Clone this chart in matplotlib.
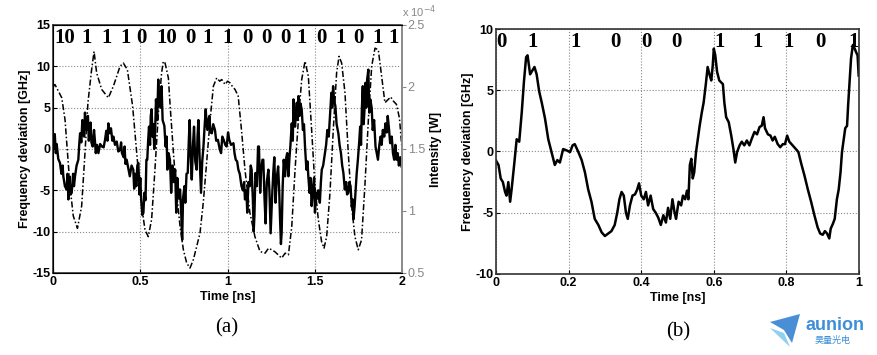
import numpy as np
import matplotlib
matplotlib.use("Agg")
import matplotlib.pyplot as plt
from matplotlib.ticker import FuncFormatter
from matplotlib.patches import Polygon

plt.rcParams['font.family'] = ['Liberation Sans', 'DejaVu Sans']
plt.rcParams['axes.unicode_minus'] = False

# --- (a) frequency deviation [GHz], solid line ---
t_freq_a = [0.0, 0.005, 0.01, 0.016, 0.021, 0.03, 0.04, 0.048, 0.055, 0.059, 0.068, 0.078, 0.083, 0.088,
            0.094, 0.1, 0.107, 0.115, 0.12, 0.126, 0.135, 0.145, 0.15, 0.155, 0.162, 0.168, 0.174, 0.178,
            0.183, 0.19, 0.195, 0.2, 0.205, 0.21, 0.215, 0.22, 0.227, 0.235, 0.24, 0.245, 0.252, 0.26,
            0.27, 0.28, 0.29, 0.298, 0.305, 0.312, 0.317, 0.325, 0.332, 0.34, 0.346, 0.355, 0.365, 0.374,
            0.384, 0.39, 0.395, 0.405, 0.41, 0.415, 0.422, 0.43, 0.44, 0.45, 0.46, 0.465, 0.47, 0.477,
            0.483, 0.489, 0.495, 0.5, 0.505, 0.512, 0.518, 0.523, 0.53, 0.535, 0.54, 0.545, 0.55, 0.556,
            0.56, 0.565, 0.57, 0.575, 0.58, 0.585, 0.59, 0.597, 0.603, 0.608, 0.614, 0.618, 0.622, 0.628,
            0.638, 0.645, 0.651, 0.655, 0.662, 0.67, 0.677, 0.684, 0.692, 0.7, 0.706, 0.712, 0.72, 0.728,
            0.735, 0.74, 0.745, 0.753, 0.758, 0.765, 0.772, 0.778, 0.783, 0.789, 0.795, 0.802, 0.808,
            0.815, 0.823, 0.828, 0.833, 0.84, 0.848, 0.855, 0.862, 0.868, 0.875, 0.88, 0.885, 0.89, 0.896,
            0.902, 0.91, 0.918, 0.928, 0.935, 0.945, 0.955, 0.963, 0.97, 0.978, 0.987, 0.995, 1.003, 1.01,
            1.02, 1.034, 1.04, 1.047, 1.055, 1.062, 1.07, 1.08, 1.088, 1.095, 1.1, 1.108, 1.113, 1.12,
            1.128, 1.133, 1.138, 1.145, 1.15, 1.154, 1.16, 1.168, 1.175, 1.18, 1.187, 1.193, 1.2, 1.205,
            1.212, 1.218, 1.225, 1.234, 1.24, 1.247, 1.255, 1.262, 1.268, 1.275, 1.282, 1.29, 1.296, 1.301,
            1.306, 1.31, 1.316, 1.322, 1.33, 1.337, 1.342, 1.349, 1.355, 1.36, 1.368, 1.374, 1.378, 1.383,
            1.387, 1.392, 1.397, 1.402, 1.406, 1.413, 1.418, 1.425, 1.432, 1.438, 1.444, 1.452, 1.458,
            1.463, 1.47, 1.476, 1.482, 1.49, 1.496, 1.501, 1.508, 1.515, 1.52, 1.529, 1.535, 1.54, 1.548,
            1.558, 1.565, 1.572, 1.58, 1.587, 1.595, 1.6, 1.605, 1.61, 1.618, 1.625, 1.635, 1.642, 1.65,
            1.657, 1.664, 1.672, 1.68, 1.685, 1.692, 1.698, 1.705, 1.712, 1.717, 1.722, 1.728, 1.733, 1.74,
            1.747, 1.755, 1.76, 1.765, 1.77, 1.775, 1.78, 1.785, 1.79, 1.795, 1.8, 1.807, 1.812, 1.818,
            1.826, 1.832, 1.84, 1.848, 1.855, 1.862, 1.87, 1.877, 1.883, 1.89, 1.898, 1.905, 1.912, 1.918,
            1.925, 1.932, 1.941, 1.948, 1.955, 1.962, 1.968, 1.975, 1.982, 1.99, 1.997]
freq_a = [1.5, 0.0, 1.8, -0.5, 0.6, -1.2, -1.7, -3.0, -2.0, -3.3, -4.5, -4.9, -3.0, -6.1,
          -3.3, -5.5, -5.3, -3.0, -4.5, -3.3, -2.0, -1.3, 0.5, 1.9, 0.8, 3.5, 3.1, 1.5,
          4.4, 2.3, 3.0, 4.0, 1.0, 1.9, 3.2, 0.8, 0.3, 2.3, 1.0, -0.5, 0.5, -0.5,
          0.6, 0.3, 0.2, 1.1, 2.2, 1.0, 3.1, 1.9, 2.5, 1.0, 1.5, 0.5, 0.9, -0.3,
          -0.1, 0.8, -0.5, -1.0, 0.3, -1.8, -1.3, -2.2, -3.3, -2.0, -2.5, -4.8, -3.0, -4.5,
          -2.0, -1.7, -5.5, -3.5, -6.1, -8.0, -7.7, -5.3, -6.2, -1.3, -1.3, 1.0, 2.7, 0.5,
          4.0, 4.8, 1.5, 3.0, 0.0, 2.0, 6.0, 3.5, 8.4, 5.2, 7.0, 5.0, 7.6, 3.5,
          2.8, 0.3, 1.5, -2.5, -0.5, -1.3, -5.3, -2.0, -4.0, -2.5, -7.7, -3.5, -6.0, -4.9,
          -8.0, -11.0, -6.0, -4.5, -6.5, -3.0, -2.9, 1.0, 3.5, -1.0, -3.7, 0.5, 2.7,
          -1.5, -2.5, 1.5, 3.5, -1.0, -5.3, -1.5, 0.3, 2.5, 4.8, 3.0, 2.3, 3.5, 4.0,
          2.0, 1.9, 3.0, 2.3, 1.0, 1.1, 0.0, -0.5, 1.5, 1.1, 0.5, 0.3, 2.0, 1.1,
          0.5, 0.7, -0.5, -1.3, -1.5, -2.5, -3.0, -4.5, -5.0, -4.0, -6.1, -5.0, -7.7, -4.0,
          -4.5, -2.0, -2.5, -6.0, -10.0, -8.1, -2.9, -4.5, 0.3, 0.3, -5.3, -2.5, -1.3, -1.3,
          -6.0, -9.0, -4.0, -2.5, -5.0, -10.2, -6.0, -2.9, -1.0, -6.5, -3.5, -2.1, -5.0, -8.5,
          -11.5, -10.2, -4.5, -1.3, -3.3, -1.0, -0.5, -3.3, -1.0, 0.3, 3.1, 1.0, 6.0, 3.5,
          2.7, 4.5, 5.6, 3.5, 6.4, 4.0, 5.5, 4.8, 2.3, 3.0, 0.3, -2.5, -1.5,
          -3.3, -5.3, -3.5, -6.9, -4.5, -3.5, -7.7, -5.3, -6.0, -5.0, -6.5, -4.0, -2.5, -2.0,
          -0.5, 0.5, 2.3, 1.5, 4.0, 6.8, 5.0, 7.6, 6.0, 5.2, 3.0, 1.9, 0.5, -0.5,
          -2.0, -2.9, -4.9, -4.0, -5.5, -5.3, -4.0, -4.5, -7.0, -6.1, -8.5, -7.0, -5.3, -3.0,
          -1.3, 1.0, 2.7, 0.5, 5.0, 7.6, 3.0, 4.8, 8.0, 5.0, 8.4, 9.6, 4.4, 6.0,
          5.0, 2.3, 3.5, 0.3, -0.5, -1.3, 0.5, 1.5, 0.5, 2.3, 1.5, 3.1, 2.0, 4.0,
          2.5, 0.7, 1.5, -0.5, -1.3, 0.5, -1.3, -0.5, -2.0, -1.0, -2.1]

# --- (a) intensity [x1e-4 W], dash-dot line ---
t_int_a = [0.0, 0.011, 0.05, 0.069, 0.097, 0.116, 0.14, 0.164, 0.183, 0.2, 0.22, 0.235, 0.25, 0.279,
           0.317, 0.346, 0.384, 0.403, 0.426, 0.456, 0.483, 0.508, 0.527, 0.546, 0.565, 0.584, 0.604,
           0.622, 0.632, 0.642, 0.661, 0.67, 0.69, 0.708, 0.728, 0.747, 0.766, 0.785, 0.804, 0.823,
           0.842, 0.861, 0.88, 0.9, 0.919, 0.938, 0.955, 0.967, 0.986, 1.0, 1.014, 1.03, 1.043, 1.061,
           1.08, 1.1, 1.128, 1.157, 1.186, 1.215, 1.235, 1.253, 1.27, 1.29, 1.31, 1.33, 1.349, 1.368,
           1.387, 1.406, 1.425, 1.444, 1.463, 1.482, 1.501, 1.52, 1.539, 1.553, 1.568, 1.587, 1.606,
           1.625, 1.639, 1.654, 1.673, 1.692, 1.711, 1.73, 1.749, 1.768, 1.787, 1.807, 1.826, 1.845,
           1.864, 1.883, 1.902, 1.921, 1.935, 1.95, 1.968, 1.985, 2.0]
int_a = [2.00, 2.02, 1.913, 1.733, 1.20, 0.96, 0.86, 1.04, 1.467, 1.873, 2.127, 2.287, 2.113, 1.98,
         1.913, 2.007, 2.167, 2.193, 2.14, 1.847, 1.413, 1.04, 0.847, 0.793, 0.933, 1.333, 1.793,
         2.113, 2.207, 2.193, 2.073, 1.873, 1.467, 1.147, 0.873, 0.687, 0.58, 0.54, 0.607, 0.713,
         0.82, 1.067, 1.387, 1.733, 2.007, 2.073, 2.047, 2.06, 2.02, 2.047, 2.033, 2.0, 1.98, 1.927,
         1.653, 1.333, 0.987, 0.793, 0.673, 0.66, 0.70, 0.687, 0.673, 0.647, 0.62, 0.66, 0.647, 0.873,
         1.333, 1.733, 2.06, 2.207, 2.087, 1.653, 1.2, 0.933, 0.753, 0.70, 0.793, 1.147, 1.653,
         2.113, 2.247, 2.193, 1.953, 1.467, 1.04, 0.793, 0.687, 0.767, 1.2, 1.733, 2.167, 2.313,
         2.3, 2.087, 1.873, 1.9, 1.92, 1.887, 1.86, 1.75, 1.5]

# --- (b) frequency deviation [GHz] ---
t_freq_b = [0.0, 0.007, 0.013, 0.019, 0.025, 0.029, 0.034, 0.039, 0.043, 0.05, 0.057, 0.064, 0.071,
            0.077, 0.083, 0.087, 0.094, 0.1, 0.106, 0.112, 0.119, 0.126, 0.135, 0.144, 0.153, 0.162,
            0.169, 0.176, 0.185, 0.194, 0.204, 0.211, 0.217, 0.227, 0.236, 0.245, 0.254, 0.263, 0.272,
            0.282, 0.291, 0.3, 0.309, 0.318, 0.327, 0.334, 0.34, 0.346, 0.352, 0.358, 0.363, 0.369,
            0.376, 0.383, 0.389, 0.394, 0.4, 0.407, 0.413, 0.419, 0.426, 0.433, 0.44, 0.447, 0.454,
            0.461, 0.468, 0.474, 0.48, 0.486, 0.492, 0.496, 0.503, 0.51, 0.515, 0.521, 0.526, 0.53,
            0.534, 0.538, 0.542, 0.546, 0.551, 0.556, 0.561, 0.567, 0.572, 0.578, 0.583, 0.588, 0.593,
            0.597, 0.6, 0.604, 0.609, 0.615, 0.625, 0.629, 0.634, 0.641, 0.648, 0.654, 0.659, 0.664,
            0.671, 0.677, 0.684, 0.691, 0.698, 0.704, 0.712, 0.719, 0.726, 0.732, 0.737, 0.741, 0.749,
            0.756, 0.762, 0.768, 0.776, 0.783, 0.79, 0.796, 0.802, 0.808, 0.817, 0.826, 0.833, 0.84,
            0.85, 0.859, 0.868, 0.877, 0.886, 0.893, 0.9, 0.906, 0.912, 0.918, 0.922, 0.928, 0.933,
            0.939, 0.944, 0.949, 0.953, 0.958, 0.962, 0.967, 0.97, 0.974, 0.978, 0.983, 0.988, 0.992,
            0.996, 0.999]
freq_b = [-0.74, -1.1, -2.2, -2.5, -3.3, -3.6, -2.5, -4.1, -3.1, -1.1, 1.0, 0.8, 3.2,
          5.7, 7.7, 7.85, 6.3, 6.6, 6.9, 6.3, 4.9, 4.0, 2.7, 1.0, -0.05, -1.1,
          -0.7, -0.9, 0.2, 0.1, -0.05, 0.5, 0.6, -0.05, -0.7, -1.7, -3.1, -4.1, -5.5,
          -6.0, -6.6, -6.9, -6.7, -6.5, -6.0, -5.0, -3.9, -3.3, -3.6, -5.0, -5.5, -4.4,
          -3.6, -3.5, -3.1, -2.6, -3.6, -3.9, -3.3, -4.4, -3.6, -4.7, -5.0, -5.4, -6.0,
          -5.2, -5.8, -4.6, -5.5, -3.9, -5.0, -5.5, -4.1, -4.4, -3.6, -3.9, -3.2, -3.9,
          -1.1, -0.6, -2.2, -1.7, -0.05, 1.0, 2.1, 3.2, 4.0, 5.5, 6.9, 6.3, 5.8,
          7.0, 8.4, 7.85, 6.5, 5.8, 5.5, 4.0, 2.8, 2.4, 1.3, 0.2, -0.9, -0.05,
          0.5, 0.8, 0.5, 0.9, 0.5, 1.0, 1.6, 1.4, 2.0, 2.1, 2.8, 1.9, 1.4,
          1.3, 0.9, 1.2, 0.6, 0.35, 0.6, 0.6, 1.3, 0.8, 0.5, 0.2, -0.05, -0.9,
          -2.0, -3.1, -4.1, -5.2, -6.2, -6.7, -6.8, -6.5, -6.7, -7.1, -6.3, -5.9, -5.5,
          -3.9, -3.1, -1.7, -0.05, 1.0, 1.9, 2.1, 3.8, 5.7, 7.6, 8.7, 8.4, 8.1,
          7.85, 6.2]

# bit sequences written above the traces
bits_a = ['10', '1', '1', '1', '0', '10', '0', '1', '1', '0', '0', '0', '1', '0', '1', '0', '1', '1']
bits_a_t = [0.069, 0.195, 0.304, 0.413, 0.508, 0.653, 0.785, 0.888, 1.003, 1.112, 1.221, 1.330,
            1.427, 1.536, 1.645, 1.748, 1.857, 1.954]
bits_b = ['0', '1', '1', '0', '0', '0', '1', '1', '1', '0', '1']
bits_b_t = [0.016, 0.101, 0.22, 0.328, 0.414, 0.496, 0.617, 0.72, 0.805, 0.895, 0.984]

fmt_g = FuncFormatter(lambda v, _: f"{v:g}")


def style_axes(ax):
    ax.grid(True, linestyle=':', color='#888888', linewidth=0.8)
    ax.tick_params(direction='in', labelsize=9, length=3, width=0.8, pad=2)
    for lab in ax.get_xticklabels() + ax.get_yticklabels():
        lab.set_fontweight('bold')
    for sp in ax.spines.values():
        sp.set_linewidth(1.2)
        sp.set_color('#333333')


fig = plt.figure(figsize=(8.78, 3.55), dpi=100)

# ---------- panel (a) ----------
ax1 = fig.add_axes([0.0604, 0.2310, 0.3975, 0.6986])
ax1.plot(t_freq_a, freq_a, color='black', linewidth=1.7)
ax1.set_xlim(0, 2)
ax1.set_ylim(-15, 15)
ax1.set_xticks([0, 0.5, 1, 1.5, 2])
ax1.set_yticks([-15, -10, -5, 0, 5, 10, 15])
ax1.xaxis.set_major_formatter(fmt_g)
ax1.yaxis.set_major_formatter(fmt_g)
ax1.set_xlabel('Time [ns]', fontsize=9, fontweight='bold', labelpad=2)
ax1.set_ylabel('Frequency deviation [GHz]', fontsize=9, fontweight='bold', labelpad=1)
style_axes(ax1)

ax1r = ax1.twinx()
ax1r.plot(t_int_a, np.array(int_a) * 1e-4, color='black', linewidth=1.1,
          linestyle=(0, (4, 1.5, 1, 1.5)))
ax1r.set_ylim(0.5e-4, 2.5e-4)
ax1r.set_yticks([0.5e-4, 1e-4, 1.5e-4, 2e-4, 2.5e-4])
ax1r.yaxis.set_major_formatter(FuncFormatter(lambda v, _: f"{v * 1e4:g}"))
ax1r.tick_params(axis='y', direction='out', labelsize=9, colors='#888888', length=3, pad=1)
ax1r.spines['right'].set_color('#999999')
ax1r.spines['right'].set_linewidth(1.2)
ax1r.set_ylabel('Intensity [W]', fontsize=9, fontweight='bold', labelpad=4)
ax1r.text(1.0, 1.02, r'x 10$^{-4}$', transform=ax1r.transAxes, fontsize=8, color='#888888',
          ha='left', va='bottom')

for b, t in zip(bits_a, bits_a_t):
    ax1.text(t, 13.4, b, fontsize=15, fontweight='bold', family='Liberation Serif',
             ha='center', va='center')

# ---------- panel (b) ----------
ax2 = fig.add_axes([0.5649, 0.2282, 0.4135, 0.6901])
ax2.plot(t_freq_b, freq_b, color='black', linewidth=1.8)
ax2.set_xlim(0, 1)
ax2.set_ylim(-10, 10)
ax2.set_xticks([0, 0.2, 0.4, 0.6, 0.8, 1])
ax2.set_yticks([-10, -5, 0, 5, 10])
ax2.xaxis.set_major_formatter(fmt_g)
ax2.yaxis.set_major_formatter(fmt_g)
ax2.set_xlabel('Time [ns]', fontsize=9, fontweight='bold', labelpad=2)
ax2.set_ylabel('Frequency deviation [GHz]', fontsize=9, fontweight='bold', labelpad=1)
style_axes(ax2)

for b, t in zip(bits_b, bits_b_t):
    ax2.text(t, 8.94, b, fontsize=15, fontweight='bold', family='Liberation Serif',
             ha='center', va='center')

# panel captions
fig.text(227 / 878, 1 - 328 / 355, '(a)', fontsize=15, family='Liberation Serif', ha='center', va='center')
fig.text(678 / 878, 1 - 332 / 355, '(b)', fontsize=15, family='Liberation Serif', ha='center', va='center')

# watermark logo
plane = Polygon([(770 / 878, 1 - 322 / 355), (800 / 878, 1 - 314 / 355), (792 / 878, 1 - 343 / 355),
                 (784 / 878, 1 - 330 / 355)], closed=True, transform=fig.transFigure,
                facecolor='#4a8fd6', edgecolor='none')
wing = Polygon([(770 / 878, 1 - 328 / 355), (784 / 878, 1 - 333 / 355), (790 / 878, 1 - 347 / 355)],
               closed=True, transform=fig.transFigure, facecolor='#8fd0ee', edgecolor='none')
fig.patches.extend([plane, wing])
fig.text(835 / 878, 1 - 325 / 355, 'aunion', fontsize=13, fontweight='bold', color='#3f8fd8',
         ha='center', va='center')
fig.text(833 / 878, 1 - 340 / 355, '昊量光电', fontsize=6.5, color='#3f8fd8',
         family=['Noto Sans CJK SC', 'DejaVu Sans'], ha='center', va='center')

fig.savefig('out.png', dpi=100)
